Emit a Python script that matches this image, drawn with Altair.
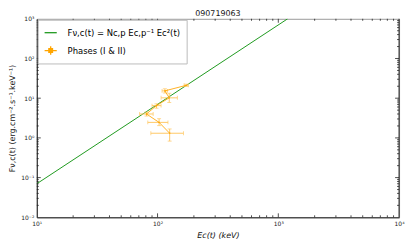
import altair as alt
import pandas as pd

# ---- data ----
title_text = "090719063"
model_label = "Fν,c(t) = Nc,p Ec,p⁻¹ Ec²(t)"
phase_label = "Phases (I & II)"

model_E = [10, 1195]
model_F = [0.07, 1000]

E = [173, 115, 125, 98, 81, 103, 126]
F = [21.1, 15.3, 10.2, 6.5, 4.0, 2.46, 1.31]
E_lo = [166, 109, 107, 90, 71, 83, 88]
E_hi = [180, 121, 146, 107, 92, 122, 164]
F_lo = [19.8, 13.6, 7.8, 5.6, 3.55, 2.04, 0.83]
F_hi = [22.5, 17.2, 13.3, 7.2, 4.47, 3.05, 1.68]

x_major = [10, 100, 1000, 10000]
y_major = [0.01, 0.1, 1, 10, 100, 1000]
x_minor = [m * 10 ** k for k in range(1, 4) for m in range(2, 10)]
y_minor = [m * 10.0 ** k for k in range(-2, 3) for m in range(2, 10)]

W, H = 365, 200
GREEN = "#1f9a1f"
ORANGE = "#FFA500"
ORANGE_LIGHT = "#FFC966"
FONT = "DejaVu Sans"

model_df = pd.DataFrame({"E": model_E, "F": model_F, "series": model_label})
pts = pd.DataFrame({"E": E, "F": F, "Elo": E_lo, "Ehi": E_hi,
                    "Flo": F_lo, "Fhi": F_hi, "series": phase_label,
                    "order": list(range(len(E)))})

sup = "['⁰','¹','²','³','⁴','⁵']"
lab = ("'10' + (round(log(datum.value)/LN10) < 0 ? '⁻' : '') + "
       + sup + "[abs(round(log(datum.value)/LN10))]")

xscale = alt.Scale(type="log", domain=[10, 10000], nice=False)
yscale = alt.Scale(type="log", domain=[0.01, 1000], nice=False)

xaxis = alt.Axis(values=x_major, labelExpr=lab, title="Ec(t) (keV)", ticks=False,
                 grid=False, labelFontSize=6, labelPadding=3, titleFontSize=8,
                 titleFontStyle="italic", titleFontWeight="normal", titlePadding=5,
                 domainColor="#222", labelColor="#222", titleColor="#111", labelFont=FONT,
                 titleFont=FONT, labelFlush=False)
yaxis = alt.Axis(values=y_major, labelExpr=lab, title="Fν,c(t) (erg.cm⁻².s⁻¹.keV⁻¹)",
                 ticks=False, grid=False, labelFontSize=6, labelPadding=3,
                 titleFontSize=8, titleFontWeight="normal", titlePadding=4,
                 domainColor="#222", labelColor="#222", titleColor="#111", labelFont=FONT,
                 titleFont=FONT, labelFlush=False)

X = alt.X("E:Q", scale=xscale, axis=xaxis)
Y = alt.Y("F:Q", scale=yscale, axis=yaxis)

color_scale = alt.Scale(domain=[model_label, phase_label], range=[GREEN, ORANGE])
shape_scale = alt.Scale(domain=[model_label, phase_label],
                        range=["stroke",
                               "M-1,0H1M0,-0.7V0.7M-0.3,-0.3H0.3V0.3H-0.3Z"])
legend = alt.Legend(title=None, orient="top-left", offset=1, padding=6,
                    strokeColor="#bbb", fillColor="white", labelFontSize=8.5,
                    labelFont=FONT, symbolSize=150, rowPadding=6, labelOffset=10,
                    symbolStrokeWidth=1.3)

model = alt.Chart(model_df).mark_line(strokeWidth=1, clip=True).encode(
    x=X, y=Y, color=alt.Color("series:N", scale=color_scale, legend=legend))

conn = alt.Chart(pts).mark_line(strokeWidth=1, color=ORANGE, opacity=0.85).encode(
    x=alt.X("E:Q", scale=xscale), y=alt.Y("F:Q", scale=yscale), order="order:Q")

xerr = alt.Chart(pts).mark_rule(color=ORANGE_LIGHT, strokeWidth=1).encode(
    x=alt.X("Elo:Q", scale=xscale), x2="Ehi:Q", y=alt.Y("F:Q", scale=yscale))
yerr = alt.Chart(pts).mark_rule(color=ORANGE_LIGHT, strokeWidth=1).encode(
    y=alt.Y("Flo:Q", scale=yscale), y2="Fhi:Q", x=alt.X("E:Q", scale=xscale))

caps = []
for fld in ["Elo", "Ehi"]:
    caps.append(alt.Chart(pts).mark_tick(color=ORANGE_LIGHT, orient="vertical",
                                         size=4, thickness=1).encode(
        x=alt.X(f"{fld}:Q", scale=xscale), y=alt.Y("F:Q", scale=yscale)))
for fld in ["Flo", "Fhi"]:
    caps.append(alt.Chart(pts).mark_tick(color=ORANGE_LIGHT, orient="horizontal",
                                         size=4, thickness=1).encode(
        x=alt.X("E:Q", scale=xscale), y=alt.Y(f"{fld}:Q", scale=yscale)))

points = alt.Chart(pts).mark_point(filled=True, size=18, opacity=1, shape="square").encode(
    x=alt.X("E:Q", scale=xscale), y=alt.Y("F:Q", scale=yscale),
    color=alt.Color("series:N", scale=color_scale, legend=legend),
    shape=alt.Shape("series:N", scale=shape_scale, legend=legend))

# inward tick marks on all four sides
ticks = []
def xticks(vals, length):
    d = pd.DataFrame({"v": vals})
    b = alt.Chart(d).mark_rule(color="#222", strokeWidth=0.8).encode(
        x=alt.X("v:Q", scale=xscale), y=alt.value(H), y2=alt.value(H - length))
    t = alt.Chart(d).mark_rule(color="#222", strokeWidth=0.8).encode(
        x=alt.X("v:Q", scale=xscale), y=alt.value(0), y2=alt.value(length))
    return [b, t]
def yticks(vals, length):
    d = pd.DataFrame({"v": vals})
    l = alt.Chart(d).mark_rule(color="#222", strokeWidth=0.8).encode(
        y=alt.Y("v:Q", scale=yscale), x=alt.value(0), x2=alt.value(length))
    r = alt.Chart(d).mark_rule(color="#222", strokeWidth=0.8).encode(
        y=alt.Y("v:Q", scale=yscale), x=alt.value(W), x2=alt.value(W - length))
    return [l, r]
ticks += xticks(x_major[1:-1], 4) + xticks(x_minor, 2)
ticks += yticks(y_major[1:-1], 4) + yticks(y_minor, 2)

right_spine = alt.Chart(pd.DataFrame({"v": [1]})).mark_rule(color="#222").encode(
    x=alt.value(W), y=alt.value(0), y2=alt.value(H))

chart = alt.layer(model, *ticks, right_spine, xerr, yerr, *caps, conn, points).resolve_scale(
    color="shared", shape="shared"
).properties(
    width=W, height=H,
    title=alt.TitleParams(title_text, fontSize=8, font=FONT, fontWeight="normal",
                          offset=1, anchor="middle", color="#111", baseline="bottom",
                          dy=11),
    autosize=alt.AutoSizeParams(type="none"),
    padding={"left": 29, "top": 10, "right": 8, "bottom": 23},
).configure_view(stroke="#999", strokeWidth=1)

chart.save("out.html", embed_options={"renderer": "svg", "actions": False})
